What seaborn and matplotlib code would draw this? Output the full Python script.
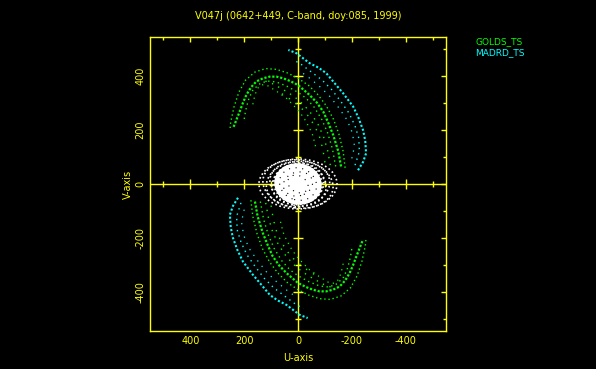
import matplotlib
matplotlib.use("Agg")
import matplotlib.pyplot as plt
import pandas as pd
import seaborn as sns
from matplotlib.patches import Ellipse
from matplotlib.ticker import MultipleLocator, FixedLocator, FixedFormatter

# ---------------- data ----------------
TITLE = "V047j (0642+449, C-band, doy:085, 1999)"
STATIONS = ["GOLDS_TS", "MADRD_TS"]
STATION_COLORS = ["#00ff00", "#00ffff"]
TICKS = [400, 200, 0, -200, -400]
TICK_LABELS = ["400", "200", "0", "-200", "-400"]
CROSS_TICKS = [-500, -400, -300, -200, -100, 100, 200, 300, 400, 500]

# GOLDS_TS tracks (u, v) - lower half
g_low_1 = [(160, -65), (150, -120), (131, -181), (112, -228), (94, -268), (70, -302),
           (43, -330), (20, -350), (0, -367), (-30, -382), (-55, -392), (-80, -398),
           (-105, -398), (-130, -392), (-155, -380), (-175, -358), (-192, -330),
           (-205, -300), (-217, -268), (-230, -235), (-240, -210)]
g_low_2 = [(175, -60), (168, -120), (152, -185), (132, -240), (105, -290), (75, -330),
           (40, -365), (0, -392), (-40, -412), (-80, -425), (-120, -428), (-160, -415),
           (-195, -385), (-220, -340), (-238, -285), (-250, -230), (-253, -200)]
g_low_3 = [(140, -65), (128, -130), (110, -190), (88, -240), (60, -285), (30, -318),
           (0, -340), (-40, -362), (-80, -378), (-115, -382), (-145, -370), (-170, -345),
           (-185, -310), (-195, -270), (-200, -240)]
g_low_4 = [(65, -140), (55, -180), (43, -207), (22, -245), (0, -274), (-20, -295),
           (-43, -318), (-80, -344), (-117, -367), (-135, -368), (-150, -355),
           (-160, -330), (-167, -300), (-170, -280)]
g_low_5 = [(120, -70), (110, -125), (95, -175), (75, -220), (50, -260), (20, -295),
           (-15, -325), (-55, -350), (-95, -372), (-130, -385)]
g_low_6 = [(100, -80), (92, -130), (80, -175), (62, -215), (40, -250), (12, -282),
           (-25, -312), (-65, -338)]
# GOLDS_TS tracks - upper half
g_up_1 = [(-160, 65), (-150, 120), (-131, 181), (-112, 228), (-94, 268), (-70, 302),
          (-43, 330), (-20, 350), (0, 367), (30, 382), (55, 392), (80, 398), (105, 398),
          (130, 392), (155, 380), (175, 358), (192, 330), (205, 300), (217, 268),
          (230, 235), (240, 210)]
g_up_2 = [(-175, 60), (-168, 120), (-152, 185), (-132, 240), (-105, 290), (-75, 330),
          (-40, 365), (0, 392), (40, 412), (80, 425), (120, 428), (160, 415), (195, 385),
          (220, 340), (238, 285), (250, 230), (253, 200)]
g_up_3 = [(-140, 65), (-128, 130), (-110, 190), (-88, 240), (-60, 285), (-30, 318),
          (0, 340), (40, 362), (80, 378), (115, 382), (145, 370), (170, 345), (185, 310),
          (195, 270), (200, 240)]
g_up_4 = [(-65, 140), (-55, 180), (-43, 207), (-22, 245), (0, 274), (20, 295), (43, 318),
          (80, 344), (117, 367), (135, 368), (150, 355), (160, 330), (167, 300), (170, 280)]
g_up_5 = [(-120, 70), (-110, 125), (-95, 175), (-75, 220), (-50, 260), (-20, 295),
          (15, 325), (55, 350), (95, 372), (130, 385)]
g_up_6 = [(-100, 80), (-92, 130), (-80, 175), (-62, 215), (-40, 250), (-12, 282),
          (25, 312), (65, 338)]

# MADRD_TS tracks (u, v) - lower half
c_low_1 = [(223, -51), (242, -82), (253, -114), (250, -160), (242, -199), (225, -245),
           (205, -287), (168, -336), (135, -375), (105, -411), (75, -432), (43, -448),
           (-6, -485), (-36, -497)]
c_low_2 = [(212, -70), (228, -120), (226, -170), (212, -215), (190, -262), (160, -305),
           (125, -350), (90, -385), (50, -415), (10, -445), (-20, -462)]
c_low_3 = [(200, -95), (210, -140), (202, -190), (182, -238), (152, -282), (118, -325),
           (80, -362), (40, -395), (5, -420)]
# MADRD_TS tracks - upper half
c_up_1 = [(-223, 51), (-242, 82), (-253, 114), (-250, 160), (-242, 199), (-225, 245),
          (-205, 287), (-168, 336), (-135, 375), (-105, 411), (-75, 432), (-43, 448),
          (6, 485), (36, 497)]
c_up_2 = [(-212, 70), (-228, 120), (-226, 170), (-212, 215), (-190, 262), (-160, 305),
          (-125, 350), (-90, 385), (-50, 415), (-10, 445), (20, 462)]
c_up_3 = [(-200, 95), (-210, 140), (-202, 190), (-182, 238), (-152, 282), (-118, 325),
          (-80, 362), (-40, 395), (-5, 420)]

# ground-baseline tracks around the origin (ellipse sizes in u, v units)
blob_w = [290, 262, 236, 212, 194, 180]
blob_h = [185, 178, 168, 160, 152, 145]
blob_ang = [0, 8, -6, 14, -10, 5]
core_w, core_h, core_ang = 172, 148, 10
tex_w = [140, 110, 80]
tex_h = [118, 88, 60]
tex_ang = [20, -15, 30]

# ---------------- style ----------------
sns.set_theme(style="dark", rc={"axes.facecolor": "black", "figure.facecolor": "black",
                                "axes.edgecolor": "#ffff00", "axes.grid": False})
plt.rcParams["font.family"] = ["DejaVu Sans"]
YEL = "#ffff00"

fig = plt.figure(figsize=(5.96, 3.69), dpi=100)
ax = fig.add_axes([150 / 596, 1 - 331 / 369, 296 / 596, 294 / 369])
ax.set_facecolor("black")


def draw_track(pts, color, lw, dash, z=3):
    df = pd.DataFrame(pts, columns=["u", "v"])
    sns.lineplot(data=df, x="u", y="v", sort=False, estimator=None, color=color,
                 linewidth=lw, linestyle=(0, dash), ax=ax, zorder=z, legend=False)


gcol, ccol = STATION_COLORS
# GOLDS_TS
for trk in (g_low_1, g_up_1):
    draw_track(trk, gcol, 1.6, (1, 0.8))
for trk in (g_low_2, g_up_2):
    draw_track(trk, gcol, 1.0, (1, 2.0))
for trk in (g_low_3, g_up_3):
    draw_track(trk, gcol, 1.0, (1, 2.5))
for trk in (g_low_4, g_up_4):
    draw_track(trk, gcol, 0.9, (1, 3.5))
for trk in (g_low_5, g_up_5):
    draw_track(trk, gcol, 1.0, (1, 4.0))
for trk in (g_low_6, g_up_6):
    draw_track(trk, gcol, 1.0, (1, 5.0))
# MADRD_TS
for trk in (c_low_1, c_up_1):
    draw_track(trk, ccol, 1.5, (1, 1.0))
for trk in (c_low_2, c_up_2):
    draw_track(trk, ccol, 1.0, (1, 3.0))
for trk in (c_low_3, c_up_3):
    draw_track(trk, ccol, 0.9, (1, 4.5))

# central ground baselines
for w, h, a in zip(blob_w, blob_h, blob_ang):
    ax.add_patch(Ellipse((0, 0), w, h, angle=a, fill=False, edgecolor="white",
                         linewidth=1.2, linestyle=(0, (1, 1.6)), zorder=4))
ax.add_patch(Ellipse((0, 0), core_w, core_h, angle=core_ang, facecolor="white",
                     edgecolor="white", linewidth=1.0, zorder=4))
for w, h, a in zip(tex_w, tex_h, tex_ang):
    ax.add_patch(Ellipse((0, 0), w, h, angle=a, fill=False, edgecolor="black",
                         linewidth=0.8, linestyle=(0, (1, 5)), zorder=4.5))

# centre cross with ticks
ax.axhline(0, color=YEL, lw=1.0, zorder=1)
ax.axvline(0, color=YEL, lw=1.0, zorder=1)
for t in CROSS_TICKS:
    ms = 6.5 if t % 200 == 0 else 4.3
    ax.plot([t], [0], marker="|", ms=ms, mew=1.0, color=YEL, ls="none", zorder=1)
    ax.plot([0], [t], marker="_", ms=ms, mew=1.0, color=YEL, ls="none", zorder=1)

# axes
ax.set_xlim(550, -550)
ax.set_ylim(-545, 545)
ax.xaxis.set_major_locator(FixedLocator(TICKS))
ax.xaxis.set_major_formatter(FixedFormatter(TICK_LABELS))
ax.yaxis.set_major_locator(FixedLocator(TICKS))
ax.yaxis.set_major_formatter(FixedFormatter(TICK_LABELS))
ax.xaxis.set_minor_locator(MultipleLocator(100))
ax.yaxis.set_minor_locator(MultipleLocator(100))
ax.tick_params(which="both", direction="in", top=True, right=True, color=YEL,
               labelcolor=YEL, width=1.0, labelsize=7)
ax.tick_params(which="major", length=3.3, pad=3.5)
ax.tick_params(which="minor", length=1.9)
for lab in ax.get_yticklabels():
    lab.set_rotation(90)
    lab.set_va("center")
for sp in ax.spines.values():
    sp.set_color(YEL)
    sp.set_linewidth(1.0)

ax.set_xlabel("U-axis", color=YEL, fontsize=7)
ax.set_ylabel("V-axis", color=YEL, fontsize=7)
ax.xaxis.set_label_coords(0.5, -0.092)
ax.xaxis.label.set_va("center")
ax.yaxis.set_label_coords(-0.074, 0.5)
ax.yaxis.label.set_va("center")

fig.text(298 / 596, 1 - 16 / 369, TITLE, color=YEL, fontsize=7, ha="center", va="center")
fig.text(475 / 596, 1 - 42 / 369, STATIONS[0], color=gcol, fontsize=6.5, ha="left", va="center")
fig.text(475 / 596, 1 - 52.5 / 369, STATIONS[1], color=ccol, fontsize=6.5, ha="left", va="center")

fig.savefig("out.png", dpi=100, facecolor="black")
